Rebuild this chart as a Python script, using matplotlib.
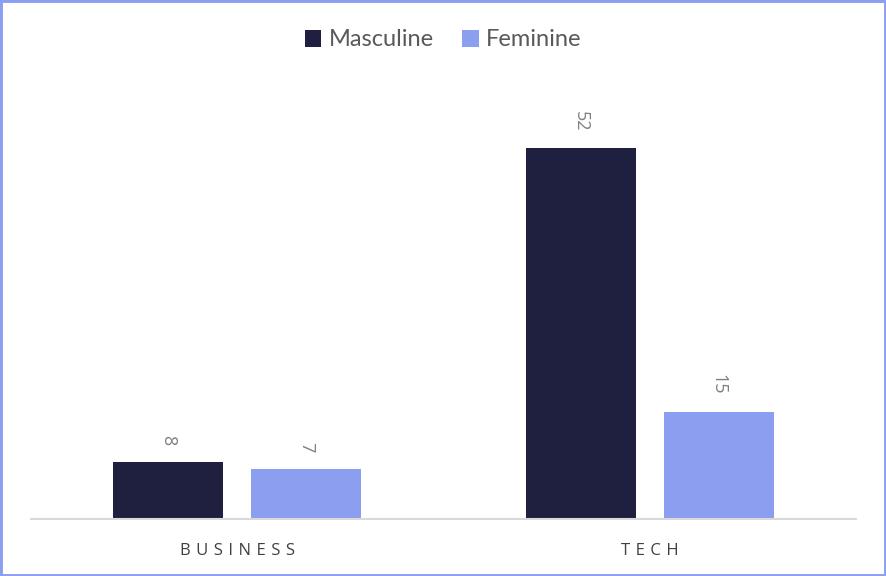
import numpy as np
import matplotlib.pyplot as plt
from matplotlib.patches import Rectangle

# data
categories = ['BUSINESS', 'TECH']
masculine = [8, 52]
feminine = [7, 15]

navy = '#1F1F3F'
blue = '#8C9EF0'

fig = plt.figure(figsize=(8.86, 5.76), dpi=100)
ax = fig.add_axes([31 / 886, 57 / 576, 825 / 886, 428 / 576])

x = np.arange(len(categories))
w = 0.266
off = 0.167
b1 = ax.bar(x - off, masculine, w, color=navy, label='Masculine')
b2 = ax.bar(x + off, feminine, w, color=blue, label='Feminine')

# value labels, rotated
for bars in (b1, b2):
    for rect in bars:
        ax.annotate(f'{rect.get_height():g}',
                    (rect.get_x() + rect.get_width() / 2, rect.get_height()),
                    xytext=(0, 17), textcoords='offset pixels',
                    ha='center', va='bottom', rotation=-90,
                    fontsize=13, color='#7F7F7F', family='Open Sans')

ax.set_xlim(-0.5, 1.5)
ax.set_ylim(0, 60)
ax.set_yticks([])
ax.set_xticks(x)
ax.set_xticklabels(['\u2009\u2009'.join(c) for c in categories], family='Open Sans',
                   fontsize=12, color='#404040')
ax.tick_params(axis='x', length=0, pad=17)
for s in ['top', 'right', 'left']:
    ax.spines[s].set_visible(False)
ax.spines['bottom'].set_color('#D9D9D9')
ax.spines['bottom'].set_linewidth(1.5)

fig.legend(loc='center', bbox_to_anchor=(0.5, 1 - 40 / 576), ncol=2, frameon=False,
           prop={'family': 'Lato', 'size': 17}, labelcolor='#595959',
           handlelength=0.7, handleheight=0.7, handletextpad=0.3, columnspacing=1.2)

fig.patches.append(Rectangle((0, 0), 1, 1, transform=fig.transFigure, fill=False,
                             edgecolor=blue, linewidth=3.5))

fig.savefig('out.png', dpi=100)
